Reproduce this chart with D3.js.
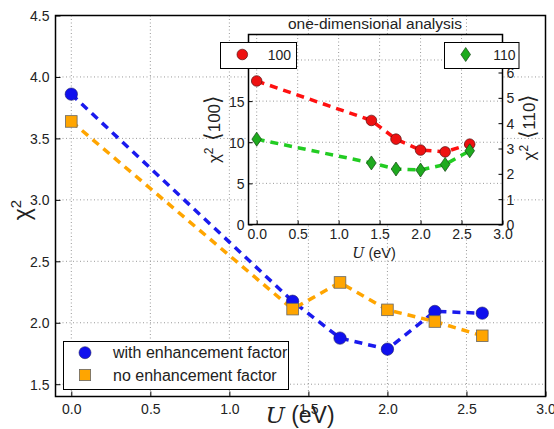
<!DOCTYPE html>
<html><head><meta charset="utf-8">
<script src="https://cdn.jsdelivr.net/npm/d3@7"></script>
<style>body{margin:0;background:#fff}svg{display:block}text{font-family:"Liberation Sans",Arial,sans-serif}</style>
</head><body><svg id="c" width="554" height="429"></svg>
<script>
// ---- data ----
const uValues = [0.0, 1.4, 1.7, 2.0, 2.3, 2.6];
const withEnh = [3.86, 2.175, 1.875, 1.785, 2.092, 2.078];
const noEnh   = [3.638, 2.111, 2.328, 2.105, 2.01, 1.894];
const chi100  = [17.45, 12.65, 10.38, 9.05, 8.83, 9.77];
const chi110  = [3.37, 2.43, 2.19, 2.15, 2.37, 2.91];
const mainXTicks = [0.0, 0.5, 1.0, 1.5, 2.0, 2.5, 3.0];
const mainYTicks = [1.5, 2.0, 2.5, 3.0, 3.5, 4.0, 4.5];
const insetXTicks = [0.0, 0.5, 1.0, 1.5, 2.0, 2.5, 3.0];
const insetLeftTicks = [0, 5, 10, 15, 20];
const insetRightTicks = [0, 1, 2, 3, 4, 5, 6, 7];
const legendMain = ["with enhancement factor", "no enhancement factor"];

const svg = d3.select("#c");
const gridStyle = s => s.attr("stroke", "#999").attr("stroke-width", 1).attr("stroke-dasharray", "1,2.5");

// ---- main axes ----
const M = {l: 55.5, r: 545.5, t: 15.5, b: 396.5};
const x = d3.scaleLinear().domain([-0.1, 3.0]).range([M.l, M.r]);
const y = d3.scaleLinear().domain([1.4, 4.5]).range([M.b, M.t]);
const gMain = svg.append("g");
mainXTicks.forEach(t => gMain.append("line").attr("x1", x(t)).attr("x2", x(t)).attr("y1", M.t).attr("y2", M.b).call(gridStyle));
mainYTicks.forEach(t => gMain.append("line").attr("x1", M.l).attr("x2", M.r).attr("y1", y(t)).attr("y2", y(t)).call(gridStyle));

const xAx = d3.axisBottom(x).tickValues(mainXTicks).tickFormat(d3.format(".1f")).tickSize(-5).tickPadding(8);
const yAx = d3.axisLeft(y).tickValues(mainYTicks).tickFormat(d3.format(".1f")).tickSize(-5).tickPadding(6);
const gx = svg.append("g").attr("transform", `translate(0,${M.b})`).call(xAx);
const gy = svg.append("g").attr("transform", `translate(${M.l},0)`).call(yAx);
[gx, gy].forEach(g => { g.select(".domain").remove(); g.selectAll("text").attr("font-size", 14).attr("fill", "#222"); g.selectAll(".tick line").attr("stroke", "#000"); });
gy.selectAll("text").attr("dy", "0.35em");

const line = (xs, ys, sx, sy) => d3.line().x((d, i) => sx(xs[i])).y(d => sy(d))(ys);
svg.append("path").attr("d", line(uValues, withEnh, x, y)).attr("fill", "none").attr("stroke", "#1a1aee").attr("stroke-width", 3.5).attr("stroke-dasharray", "8,6");
svg.append("path").attr("d", line(uValues, noEnh, x, y)).attr("fill", "none").attr("stroke", "#ffa500").attr("stroke-width", 3.5).attr("stroke-dasharray", "8,6");
svg.selectAll(".pc").data(withEnh).enter().append("circle").attr("cx", (d, i) => x(uValues[i])).attr("cy", d => y(d)).attr("r", 6.2).attr("fill", "#1010ee").attr("stroke", "#222266").attr("stroke-width", 0.6);
svg.selectAll(".ps").data(noEnh).enter().append("rect").attr("x", (d, i) => x(uValues[i]) - 5.8).attr("y", d => y(d) - 5.8).attr("width", 11.6).attr("height", 11.6).attr("fill", "#ffa500").attr("stroke", "#666").attr("stroke-width", 0.8);

svg.append("rect").attr("x", M.l).attr("y", M.t).attr("width", M.r - M.l).attr("height", M.b - M.t).attr("fill", "none").attr("stroke", "#000").attr("stroke-width", 1.5);

// main legend
const lg = svg.append("g");
lg.append("rect").attr("x", 63.5).attr("y", 341.5).attr("width", 225).attr("height", 48).attr("fill", "#fff").attr("stroke", "#000").attr("stroke-width", 1);
lg.append("circle").attr("cx", 85).attr("cy", 352.7).attr("r", 6).attr("fill", "#1010ee").attr("stroke", "#222266").attr("stroke-width", 0.6);
lg.append("rect").attr("x", 85 - 5.6).attr("y", 375 - 5.6).attr("width", 11.2).attr("height", 11.2).attr("fill", "#ffa500").attr("stroke", "#666").attr("stroke-width", 0.8);
legendMain.forEach((t, i) => lg.append("text").attr("x", 113).attr("y", 352.7 + i * 22.3).attr("dy", "0.35em").attr("font-size", 16).attr("fill", "#222").text(t));

// main labels
const yLbl = svg.append("text").attr("transform", "translate(30,210) rotate(-90)").attr("text-anchor", "middle").attr("font-size", 23).attr("font-family", "DejaVu Serif").attr("fill", "#222");
yLbl.append("tspan").text("χ");
yLbl.append("tspan").attr("dy", -9).attr("font-size", 15).text("2");
const xl = svg.append("text").attr("x", 300).attr("y", 423).attr("text-anchor", "middle").attr("font-size", 23).attr("fill", "#222");
xl.append("tspan").attr("font-family", "DejaVu Serif").attr("font-style", "italic").text("U");
xl.append("tspan").text(" (eV)");

// ---- inset ----
const I = {l: 248.5, r: 502.5, t: 34.5, b: 224.5};
const xi = d3.scaleLinear().domain([-0.1, 3.0]).range([I.l, I.r]);
const yl = d3.scaleLinear().domain([0, 23.1]).range([I.b, I.t]);
const yr = d3.scaleLinear().domain([0, 7.5]).range([I.b, I.t]);
svg.append("rect").attr("x", I.l).attr("y", I.t).attr("width", I.r - I.l).attr("height", I.b - I.t).attr("fill", "#fff");
insetXTicks.forEach(t => svg.append("line").attr("x1", xi(t)).attr("x2", xi(t)).attr("y1", I.t).attr("y2", I.b).call(gridStyle));
insetLeftTicks.forEach(t => svg.append("line").attr("x1", I.l).attr("x2", I.r).attr("y1", yl(t)).attr("y2", yl(t)).call(gridStyle));

const gix = svg.append("g").attr("transform", `translate(0,${I.b})`).call(d3.axisBottom(xi).tickValues(insetXTicks).tickFormat(d3.format(".1f")).tickSize(-4).tickPadding(5));
const giy = svg.append("g").attr("transform", `translate(${I.l},0)`).call(d3.axisLeft(yl).tickValues(insetLeftTicks).tickSize(-4).tickPadding(4));
const giy2 = svg.append("g").attr("transform", `translate(${I.r},0)`).call(d3.axisRight(yr).tickValues(insetRightTicks).tickSize(-4).tickPadding(4));
[gix, giy, giy2].forEach(g => { g.select(".domain").remove(); g.selectAll("text").attr("font-size", 14).attr("fill", "#222"); g.selectAll(".tick line").attr("stroke", "#000"); });
giy.selectAll("text").attr("dy", "0.35em");
giy2.selectAll("text").attr("dy", "0.35em");

svg.append("path").attr("d", line(uValues, chi100, xi, yl)).attr("fill", "none").attr("stroke", "#ff1010").attr("stroke-width", 3.5).attr("stroke-dasharray", "8,6");
svg.append("path").attr("d", line(uValues, chi110, xi, yr)).attr("fill", "none").attr("stroke", "#22cc22").attr("stroke-width", 3.5).attr("stroke-dasharray", "8,6");
svg.selectAll(".ic").data(chi100).enter().append("circle").attr("cx", (d, i) => xi(uValues[i])).attr("cy", d => yl(d)).attr("r", 5.3).attr("fill", "#ee1111").attr("stroke", "#551111").attr("stroke-width", 0.7);
const diamond = (cx, cy) => `M${cx},${cy - 7} L${cx + 4.8},${cy} L${cx},${cy + 7} L${cx - 4.8},${cy} Z`;
svg.selectAll(".id").data(chi110).enter().append("path").attr("d", (d, i) => diamond(xi(uValues[i]), yr(d))).attr("fill", "#1eaa1e").attr("stroke", "#114411").attr("stroke-width", 0.7);

svg.append("rect").attr("x", I.l).attr("y", I.t).attr("width", I.r - I.l).attr("height", I.b - I.t).attr("fill", "none").attr("stroke", "#000").attr("stroke-width", 1.5);

svg.append("text").attr("x", 375).attr("y", 29).attr("text-anchor", "middle").attr("font-size", 15.5).attr("fill", "#222").text("one-dimensional analysis");

// inset legends
svg.append("rect").attr("x", 220.5).attr("y", 42.5).attr("width", 76).attr("height", 26).attr("fill", "#fff").attr("stroke", "#000").attr("stroke-width", 1);
svg.append("circle").attr("cx", 242.3).attr("cy", 54.5).attr("r", 5.3).attr("fill", "#ee1111").attr("stroke", "#551111").attr("stroke-width", 0.7);
svg.append("text").attr("x", 291).attr("y", 55.5).attr("dy", "0.35em").attr("text-anchor", "end").attr("font-size", 14).attr("fill", "#222").text("100");
svg.append("rect").attr("x", 444.5).attr("y", 42.5).attr("width", 74.5).attr("height", 26).attr("fill", "#fff").attr("stroke", "#000").attr("stroke-width", 1);
svg.append("path").attr("d", diamond(465.7, 54.5)).attr("fill", "#1eaa1e").attr("stroke", "#114411").attr("stroke-width", 0.7);
svg.append("text").attr("x", 515.5).attr("y", 55.5).attr("dy", "0.35em").attr("text-anchor", "end").attr("font-size", 14).attr("fill", "#222").text("110");

// inset axis labels
const ixl = svg.append("text").attr("x", 374).attr("y", 258).attr("text-anchor", "middle").attr("font-size", 14.5).attr("fill", "#222");
ixl.append("tspan").attr("font-family", "DejaVu Serif").attr("font-style", "italic").text("U");
ixl.append("tspan").text(" (eV)");
const serifLbl = (tx, ty, txt) => {
  const t = svg.append("text").attr("transform", `translate(${tx},${ty}) rotate(-90)`).attr("text-anchor", "middle").attr("font-size", 17).attr("font-family", "DejaVu Serif").attr("fill", "#222");
  t.append("tspan").text("χ");
  t.append("tspan").attr("dy", -7).attr("font-size", 12).text("2");
  t.append("tspan").attr("dy", 7).attr("font-size", 22).text(" ⟨");
  t.append("tspan").text(txt);
  t.append("tspan").attr("font-size", 22).text("⟩");
};
serifLbl(220, 129, "100");
serifLbl(535, 127, "110");
</script></body></html>
